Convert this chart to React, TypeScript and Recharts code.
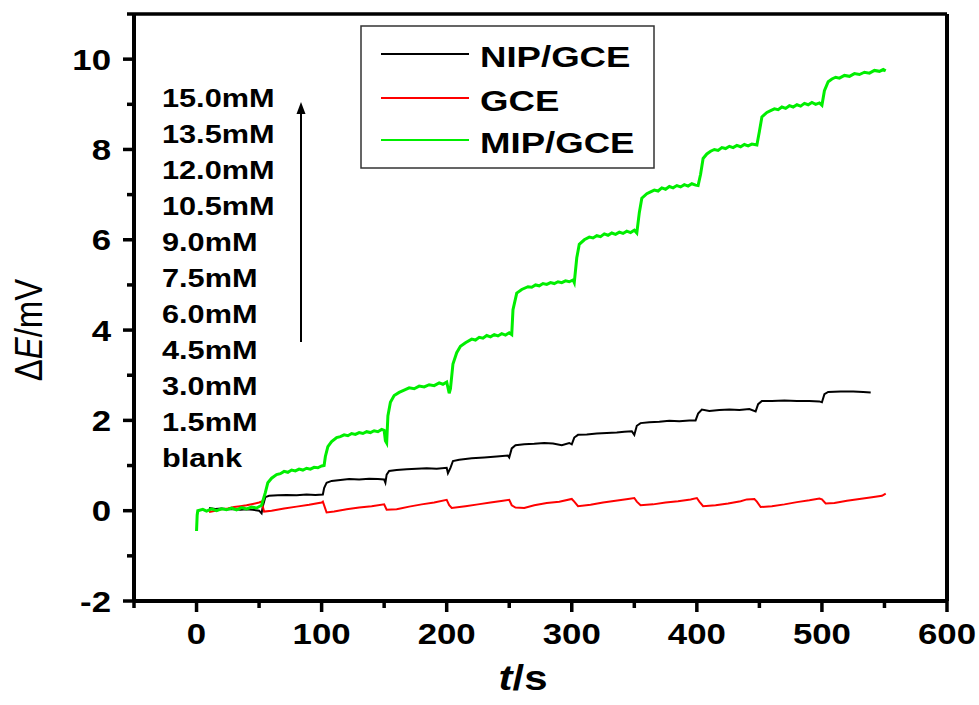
import React from "react"
import { LineChart, Line, XAxis, YAxis, ReferenceLine } from "recharts"

// axis ticks
const xMajor = [0, 100, 200, 300, 400, 500, 600]
const xMinor = [-50, 50, 150, 250, 350, 450, 550]
const yMajor = [-2, 0, 2, 4, 6, 8, 10]
const yMinor = [-1, 1, 3, 5, 7, 9, 11]

const concLabels = [
  "15.0mM", "13.5mM", "12.0mM", "10.5mM", "9.0mM", "7.5mM",
  "6.0mM", "4.5mM", "3.0mM", "1.5mM", "blank",
]

const legendNames = ["NIP/GCE", "GCE", "MIP/GCE"]
const seriesColors = ["#000000", "#ff0000", "#00ee00"]

// [t (s), dE (mV)]
const nipGce: [number, number][] = [
  [10, 0.06], [15, 0.04], [20, 0.05], [25, 0.03], [30, 0.04], [35, 0.02], [40, 0.03], [45, 0.02],
  [50, 0.0], [52, -0.06], [53, 0.1], [55, 0.3], [58, 0.33], [65, 0.34], [72, 0.35], [80, 0.34],
  [88, 0.36], [95, 0.35], [101, 0.36], [102, 0.5], [104, 0.62], [108, 0.66], [115, 0.68], [122, 0.7],
  [130, 0.69], [138, 0.71], [145, 0.7], [150, 0.69], [151, 0.62], [152, 0.8], [154, 0.88], [160, 0.9],
  [168, 0.92], [176, 0.93], [184, 0.94], [192, 0.93], [200, 0.95], [201, 0.83], [203, 0.95], [205, 1.1],
  [210, 1.13], [220, 1.16], [230, 1.18], [240, 1.2], [249, 1.22], [250, 1.18], [252, 1.38], [255, 1.45],
  [262, 1.47], [270, 1.48], [278, 1.5], [285, 1.49], [292, 1.45], [298, 1.5], [300, 1.47], [302, 1.62],
  [305, 1.68], [312, 1.69], [320, 1.71], [328, 1.72], [336, 1.73], [342, 1.75], [348, 1.76], [350, 1.68],
  [352, 1.88], [355, 1.94], [362, 1.96], [370, 1.97], [378, 1.99], [386, 1.98], [394, 2.0], [399, 2.0],
  [401, 2.15], [404, 2.24], [410, 2.21], [418, 2.23], [426, 2.24], [434, 2.23], [442, 2.25], [447, 2.2],
  [449, 2.36], [452, 2.43], [460, 2.43], [470, 2.44], [480, 2.43], [490, 2.43], [498, 2.42], [500, 2.4],
  [502, 2.58], [505, 2.63], [515, 2.64], [525, 2.64], [533, 2.63], [539, 2.62],
]

const gce: [number, number][] = [
  [10, -0.03], [15, 0.0], [20, 0.03], [25, 0.05], [30, 0.08], [35, 0.1], [40, 0.12], [45, 0.15],
  [50, 0.18], [52, 0.2], [54, -0.02], [60, 0.0], [70, 0.05], [80, 0.09], [90, 0.13], [100, 0.18],
  [101, 0.2], [104, -0.04], [110, -0.02], [120, 0.03], [130, 0.07], [140, 0.1], [150, 0.14], [152, 0.02],
  [160, 0.03], [170, 0.09], [180, 0.14], [190, 0.18], [200, 0.24], [202, 0.12], [204, 0.06], [215, 0.1],
  [225, 0.14], [235, 0.18], [245, 0.22], [250, 0.24], [252, 0.12], [255, 0.07], [262, 0.06], [270, 0.12],
  [280, 0.17], [290, 0.2], [300, 0.26], [302, 0.2], [305, 0.1], [315, 0.13], [325, 0.18], [335, 0.22],
  [345, 0.26], [350, 0.28], [352, 0.2], [355, 0.12], [365, 0.14], [375, 0.18], [385, 0.21], [395, 0.25],
  [400, 0.28], [402, 0.2], [405, 0.1], [415, 0.12], [425, 0.16], [435, 0.21], [440, 0.25], [446, 0.26],
  [448, 0.2], [451, 0.08], [460, 0.1], [470, 0.14], [480, 0.19], [490, 0.23], [498, 0.27], [500, 0.25],
  [503, 0.16], [510, 0.17], [520, 0.22], [530, 0.26], [540, 0.3], [548, 0.33], [551, 0.38],
]

const mipGce: [number, number][] = [
  [0, -0.45], [0.5, -0.1], [1, 0.0], [5, 0.03], [8, -0.01], [12, 0.04], [16, 0.0], [20, 0.04],
  [24, 0.02], [28, 0.06], [32, 0.02], [36, 0.07], [40, 0.04], [44, 0.08], [48, 0.06], [52, 0.12],
  [55, 0.4], [57, 0.62], [60, 0.72], [64, 0.8], [67, 0.82], [70, 0.87], [73, 0.85], [76, 0.9],
  [79, 0.88], [82, 0.92], [85, 0.9], [88, 0.94], [91, 0.92], [94, 0.96], [97, 0.95], [100, 0.99],
  [102, 1.0], [103, 1.2], [105, 1.42], [108, 1.53], [112, 1.62], [115, 1.64], [118, 1.68], [121, 1.66],
  [124, 1.71], [127, 1.69], [130, 1.73], [133, 1.71], [136, 1.75], [139, 1.73], [142, 1.77], [145, 1.75],
  [148, 1.8], [150, 1.78], [151, 1.55], [152, 1.5], [153, 2.1], [155, 2.4], [158, 2.55], [162, 2.62],
  [166, 2.67], [170, 2.72], [174, 2.7], [178, 2.76], [182, 2.74], [186, 2.79], [190, 2.77], [194, 2.83],
  [197, 2.8], [200, 2.85], [202, 2.6], [203, 2.7], [205, 3.25], [208, 3.5], [211, 3.64], [215, 3.72],
  [220, 3.8], [223, 3.78], [226, 3.84], [229, 3.82], [232, 3.88], [235, 3.85], [238, 3.9], [241, 3.87],
  [244, 3.92], [247, 3.89], [250, 3.94], [252, 3.9], [253, 4.45], [256, 4.82], [260, 4.9], [265, 4.96],
  [268, 4.95], [271, 5.0], [274, 4.98], [277, 5.03], [280, 5.01], [283, 5.05], [286, 5.03], [289, 5.07],
  [292, 5.05], [295, 5.09], [298, 5.07], [301, 5.11], [302, 5.05], [304, 5.6], [306, 5.9], [310, 6.0],
  [314, 6.06], [317, 6.04], [320, 6.09], [323, 6.07], [326, 6.13], [329, 6.1], [332, 6.15], [335, 6.12],
  [338, 6.17], [341, 6.14], [344, 6.19], [347, 6.16], [350, 6.21], [352, 6.15], [354, 6.6], [356, 6.92],
  [360, 7.02], [363, 7.06], [366, 7.1], [369, 7.08], [372, 7.15], [375, 7.12], [378, 7.18], [381, 7.15],
  [384, 7.2], [387, 7.17], [390, 7.22], [393, 7.19], [396, 7.24], [399, 7.21], [401, 7.2], [403, 7.45],
  [405, 7.8], [408, 7.9], [411, 7.96], [414, 8.0], [417, 7.98], [420, 8.04], [423, 8.02], [426, 8.07],
  [429, 8.04], [432, 8.09], [435, 8.06], [438, 8.11], [441, 8.08], [444, 8.12], [448, 8.1], [450, 8.4],
  [452, 8.72], [456, 8.82], [459, 8.86], [462, 8.9], [465, 8.88], [468, 8.94], [471, 8.91], [474, 8.97],
  [477, 8.94], [480, 8.99], [483, 8.96], [486, 9.02], [489, 8.99], [492, 9.04], [495, 9.0], [498, 9.03],
  [500, 8.98], [502, 9.3], [505, 9.5], [508, 9.56], [511, 9.6], [514, 9.58], [518, 9.64], [522, 9.62],
  [526, 9.68], [530, 9.66], [534, 9.71], [538, 9.69], [542, 9.75], [546, 9.73], [549, 9.77], [551, 9.74],
]

const toRows = (pts: [number, number][]) => pts.map(([t, e]) => ({ t, e }))

const FONT = "'Liberation Sans', Arial, sans-serif"
const STRETCH = 1.2

const XTick = (props: any) => {
  const { x, y, payload } = props
  const major = payload.value % 100 === 0
  return (
    <g>
      <line x1={x} y1={y} x2={x} y2={y + (major ? 11 : 7)} stroke="#000" strokeWidth={3.5} />
      {major && (
        <text
          transform={`translate(${x},${y + 43}) scale(${STRETCH},1)`}
          textAnchor="middle"
          fontFamily={FONT}
          fontWeight="bold"
          fontSize={29}
          fill="#000"
        >
          {payload.value}
        </text>
      )}
    </g>
  )
}

const YTick = (props: any) => {
  const { x, y, payload } = props
  const major = payload.value % 2 === 0
  return (
    <g>
      <line x1={x - (major ? 11 : 7)} y1={y} x2={x} y2={y} stroke="#000" strokeWidth={3.5} />
      {major && (
        <text
          transform={`translate(${x - 23},${y + 10.5}) scale(${STRETCH},1)`}
          textAnchor="end"
          fontFamily={FONT}
          fontWeight="bold"
          fontSize={29}
          fill="#000"
        >
          {payload.value}
        </text>
      )}
    </g>
  )
}

export default function App() {
  const series = [nipGce, gce, mipGce]
  return (
    <div style={{ position: "absolute", left: 0, top: 0, width: 979, height: 705, background: "#fff" }}>
      <LineChart width={979} height={705} margin={{ top: 14, right: 32, bottom: 103, left: 133 }}>
        <XAxis
          dataKey="t"
          type="number"
          domain={[-50, 600]}
          allowDataOverflow
          ticks={[...xMajor, ...xMinor].sort((a, b) => a - b)}
          interval={0}
          height={1}
          tickSize={0}
          tickMargin={0}
          tickLine={false}
          tick={<XTick />}
          axisLine={{ stroke: "#000", strokeWidth: 4 }}
        />
        <YAxis
          type="number"
          domain={[-2, 11]}
          allowDataOverflow
          ticks={[...yMajor, ...yMinor].sort((a, b) => a - b)}
          interval={0}
          width={1}
          tickSize={0}
          tickMargin={0}
          tickLine={false}
          tick={<YTick />}
          axisLine={{ stroke: "#000", strokeWidth: 4 }}
        />
        <ReferenceLine y={11} stroke="#000" strokeWidth={3.5} />
        <ReferenceLine x={600} stroke="#000" strokeWidth={4} />
        {series.map((s, i) => (
          <Line
            key={legendNames[i]}
            data={toRows(s)}
            dataKey="e"
            name={legendNames[i]}
            type="linear"
            stroke={seriesColors[i]}
            strokeWidth={i === 2 ? 3 : 2}
            dot={false}
            activeDot={false}
            isAnimationActive={false}
          />
        ))}
      </LineChart>

      <svg
        width={979}
        height={705}
        style={{ position: "absolute", left: 0, top: 0, pointerEvents: "none" }}
      >
        {/* legend */}
        <rect x={361} y={26} width={293} height={142} fill="#fff" stroke="#333" strokeWidth={1.5} />
        {legendNames.map((name, i) => {
          const ly = [54, 98, 140][i]
          return (
            <g key={name}>
              <line x1={381} y1={ly} x2={469} y2={ly} stroke={seriesColors[i]} strokeWidth={2} />
              <text
                transform={`translate(480,${ly + 12.5}) scale(1.22,1)`}
                fontFamily={FONT}
                fontWeight="bold"
                fontSize={30}
                fill="#000"
              >
                {name}
              </text>
            </g>
          )
        })}

        {/* concentration labels */}
        {concLabels.map((label, i) => (
          <text
            key={label}
            transform={`translate(162,${107 + 36 * i}) scale(1.18,1)`}
            fontFamily={FONT}
            fontWeight="bold"
            fontSize={26}
            fill="#000"
          >
            {label}
          </text>
        ))}

        {/* arrow */}
        <line x1={301} y1={342} x2={301} y2={110} stroke="#000" strokeWidth={2} />
        <polygon points="301,102 296.5,114 305.5,114" fill="#000" />

        {/* axis titles */}
        <text
          transform={`translate(42,330) scale(${STRETCH},1) rotate(-90)`}
          textAnchor="middle"
          fontFamily={FONT}
          fontSize={33}
          fill="#000"
        >
          Δ<tspan fontStyle="italic">E</tspan>/mV
        </text>
        <text
          transform={`translate(523,690) scale(${STRETCH},1)`}
          textAnchor="middle"
          fontFamily={FONT}
          fontWeight="bold"
          fontSize={35}
          fill="#000"
        >
          <tspan fontStyle="italic">t</tspan>/s
        </text>
      </svg>
    </div>
  )
}
